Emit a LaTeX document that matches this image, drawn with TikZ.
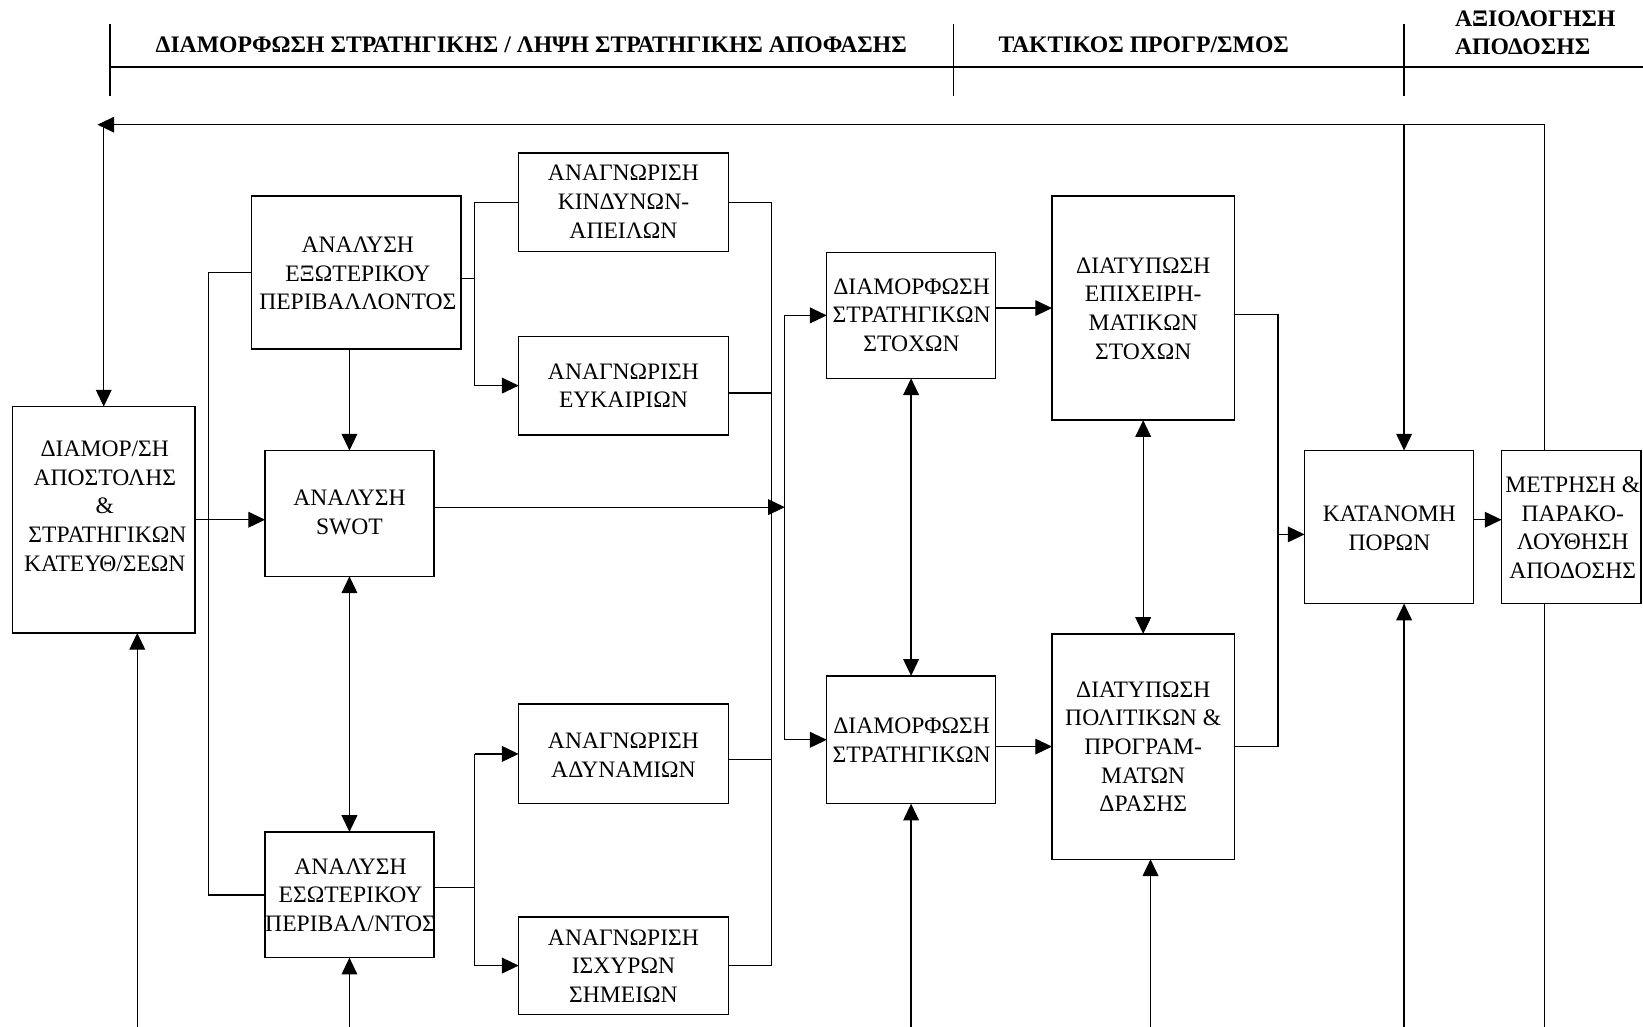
\documentclass[tikz,border=0pt]{standalone}
\usepackage{fontspec}
\setmainfont{Liberation Serif}
\usetikzlibrary{arrows.meta}
\begin{document}
\begin{tikzpicture}[x=1pt,y=-1pt,
  line width=1.25pt,
  box/.style={draw, line width=1.4pt, inner sep=0pt, outer sep=0pt},
  txt/.style={align=center, inner sep=0pt, font=\fontsize{22.5}{27.3}\selectfont},
  hdr/.style={inner sep=0pt, font=\fontsize{22.6}{27}\selectfont\bfseries},
  arr/.style={-{Triangle[length=16pt,width=15pt]}},
  darr/.style={{Triangle[length=16pt,width=15pt]}-{Triangle[length=16pt,width=15pt]}}]
\useasboundingbox (0,0) rectangle (1568,980);

% header
\node[hdr, anchor=base] (h1) at (507,50.4) {ΔΙΑΜΟΡΦΩΣΗ ΣΤΡΑΤΗΓΙΚΗΣ / ΛΗΨΗ ΣΤΡΑΤΗΓΙΚΗΣ ΑΠΟΦΑΣΗΣ};
\node[hdr, anchor=base] (h2) at (1091.5,50.4) {ΤΑΚΤΙΚΟΣ ΠΡΟΓΡ/ΣΜΟΣ};
\node[hdr, anchor=base west] (h3) at (1388,25.4) {ΑΞΙΟΛΟΓΗΣΗ};
\node[hdr, anchor=base west] (h4) at (1388,52.4) {ΑΠΟΔΟΣΗΣ};
\draw (105,23) -- (105,92);
\draw (910,23) -- (910,92);
\draw (1340,23) -- (1340,92);
\draw (105,64) -- (1568,64);

% boxes
\node[box, minimum width=174pt, minimum height=216pt] (M) at (99,496) {};
\node[box, minimum width=200pt, minimum height=146pt] (E) at (340,260) {};
\node[box, minimum width=161pt, minimum height=120pt] (S) at (333.5,490) {};
\node[box, minimum width=161pt, minimum height=120pt] (I) at (333.5,854) {};
\node[box, minimum width=200pt, minimum height=94pt] (K) at (595,193) {};
\node[box, minimum width=200pt, minimum height=94pt] (EY) at (595,368) {};
\node[box, minimum width=200pt, minimum height=95pt] (A) at (595,719.5) {};
\node[box, minimum width=200pt, minimum height=93pt] (IS) at (595,921.5) {};
\node[box, minimum width=161pt, minimum height=120pt] (DS) at (869.5,301) {};
\node[box, minimum width=161pt, minimum height=122pt] (D) at (869.5,706) {};
\node[box, minimum width=174pt, minimum height=214pt] (ES) at (1091,294) {};
\node[box, minimum width=174pt, minimum height=215pt] (P) at (1091,712.5) {};
\node[box, minimum width=161pt, minimum height=146pt] (KP) at (1325.5,503) {};
\node[box, minimum width=133pt, minimum height=146pt] (MT) at (1499.5,503) {};

% texts
\node[txt] (Mt) at (100,485) {\strut ΔΙΑΜΟΡ/ΣΗ\\\strut ΑΠΟΣΤΟΛΗΣ\\\strut \&\\\strut \hspace{5pt}ΣΤΡΑΤΗΓΙΚΩΝ\\\strut ΚΑΤΕΥΘ/ΣΕΩΝ};
\node[txt] (Et) at (341.5,263) {\strut ΑΝΑΛΥΣΗ\\\strut ΕΞΩΤΕΡΙΚΟΥ\\\strut ΠΕΡΙΒΑΛΛΟΝΤΟΣ};
\node[txt] (St) at (333.5,491) {\strut ΑΝΑΛΥΣΗ\\\strut SWOT};
\node[txt] (It) at (334.5,856) {\strut ΑΝΑΛΥΣΗ\\\strut ΕΣΩΤΕΡΙΚΟΥ\\\strut ΠΕΡΙΒΑΛ/ΝΤΟΣ};
\node[txt] (Kt) at (595,194.5) {\strut ΑΝΑΓΝΩΡΙΣΗ\\\strut ΚΙΝΔΥΝΩΝ-\\\strut ΑΠΕΙΛΩΝ};
\node[txt] (EYt) at (595,370) {\strut ΑΝΑΓΝΩΡΙΣΗ\\\strut ΕΥΚΑΙΡΙΩΝ};
\node[txt] (At) at (595,722.5) {\strut ΑΝΑΓΝΩΡΙΣΗ\\\strut ΑΔΥΝΑΜΙΩΝ};
\node[txt] (ISt) at (595,924) {\strut ΑΝΑΓΝΩΡΙΣΗ\\\strut ΙΣΧΥΡΩΝ\\\strut ΣΗΜΕΙΩΝ};
\node[txt] (DSt) at (870,302.5) {\strut ΔΙΑΜΟΡΦΩΣΗ\\\strut ΣΤΡΑΤΗΓΙΚΩΝ\\\strut ΣΤΟΧΩΝ};
\node[txt] (Dt) at (870,708.5) {\strut ΔΙΑΜΟΡΦΩΣΗ\\\strut ΣΤΡΑΤΗΓΙΚΩΝ};
\node[txt] (ESt) at (1091,296.3) {\strut ΔΙΑΤΥΠΩΣΗ\\\strut ΕΠΙΧΕΙΡΗ-\\\strut ΜΑΤΙΚΩΝ\\\strut ΣΤΟΧΩΝ};
\node[txt] (Pt) at (1091,714.5) {\strut ΔΙΑΤΥΠΩΣΗ\\\strut ΠΟΛΙΤΙΚΩΝ \&\\\strut ΠΡΟΓΡΑΜ-\\\strut ΜΑΤΩΝ\\\strut ΔΡΑΣΗΣ};
\node[txt] (KPt) at (1326,505.8) {\strut ΚΑΤΑΝΟΜΗ\\\strut ΠΟΡΩΝ};
\node[txt] (MTt) at (1501,505.5) {\strut ΜΕΤΡΗΣΗ \&\\\strut ΠΑΡΑΚΟ-\\\strut ΛΟΥΘΗΣΗ\\\strut ΑΠΟΔΟΣΗΣ};

% helper coordinates
\coordinate (bot) at (0,980);
\coordinate (fb) at (1474,119);
\coordinate (fbL) at (93,119);
\coordinate (jE) at (453,266);
\coordinate (jI) at (453,847);
\coordinate (cR) at (736,375);
\coordinate (aR) at (736,725);
\coordinate (cL) at (749,484);
\coordinate (esR) at (1219.5,300);
\coordinate (jR) at (1219.5,510);
\coordinate (km) at (1420,496);
\coordinate (mb) at (131,0);
\coordinate (pb) at (1098,0);
\coordinate (kx) at (1340,0);
\coordinate (ml) at (199,0);

% connectors
\draw[arr] (fb |- MT.north) -- (fb) -- (fbL);
\draw[arr] (M.north |- fb) -- (M.north);
\draw (fb |- MT.south) -- (fb |- bot);
\draw[arr] (kx |- fb) -- (kx |- KP.north);
\draw[arr] (kx |- bot) -- (kx |- KP.south);
\draw[arr] (mb |- bot) -- (mb |- M.south);
\draw[arr] (M.east) -- (M.east -| S.west);
\draw (E.west) -| (ml |- I.west) -- (I.west);
\draw[arr] (S.north |- E.south) -- (S.north);
\draw[darr] (S.south) -- (I.north);
\draw[arr] (I.south |- bot) -- (I.south);
\draw (E.east |- jE) -- (jE);
\draw[arr] (K.west) -| (jE |- EY.west) -- (EY.west);
\draw (I.east |- jI) -- (jI);
\draw[arr] (jI |- A.west) -- (A.west);
\draw[arr] (jI |- A.west) |- (IS.west);
\draw (K.east) -| (aR |- IS.east) -- (IS.east);
\draw (EY.east |- cR) -- (cR);
\draw (A.east |- aR) -- (aR);
\draw[arr] (S.east |- cL) -- (cL);
\draw[arr] (cL |- D.west) |- (DS.west);
\draw[arr] (cL |- D.west) -- (D.west);
\draw[darr] (DS.south) -- (D.north);
\draw[arr] (D.south |- bot) -- (D.south);
\draw[arr] (ES.west -| DS.east) -- (ES.west);
\draw[arr] (P.west -| D.east) -- (P.west);
\draw[darr] (ES.south) -- (P.north);
\draw[arr] (pb |- bot) -- (pb |- P.south);
\draw (ES.east |- esR) -- (esR) -- (jR |- P.east) -- (P.east);
\draw[arr] (jR) -- (jR -| KP.west);
\draw[arr] (KP.east |- km) -- (MT.west |- km);
\end{tikzpicture}
\end{document}
